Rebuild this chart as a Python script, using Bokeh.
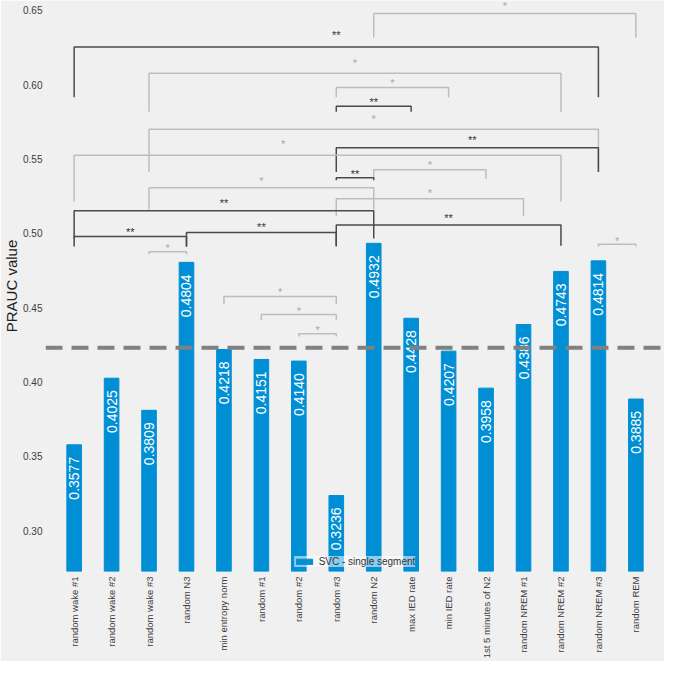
import math
from bokeh.plotting import figure
from bokeh.models import (FactorRange, Range1d, Span, FixedTicker, PrintfTickFormatter)
from bokeh.core.properties import value
from bokeh.embed import file_html
from bokeh.resources import INLINE

# ---------------- data ----------------
categories = ["random wake #1", "random wake #2", "random wake #3", "random N3",
              "min entropy norm", "random #1", "random #2", "random #3", "random N2",
              "max IED rate", "min IED rate", "1st 5 minutes of N2", "random NREM #1",
              "random NREM #2", "random NREM #3", "random REM"]
prauc = [0.3577, 0.4025, 0.3809, 0.4804, 0.4218, 0.4151, 0.4140, 0.3236, 0.4932,
         0.4428, 0.4207, 0.3958, 0.4386, 0.4743, 0.4814, 0.3885]
series_name = "SVC - single segment"
reference_level = 0.423
y_ticks = [0.30, 0.35, 0.40, 0.45, 0.50, 0.55, 0.60, 0.65]

# significance brackets: left bar, right bar, bracket height, leg bottom, label
bracket_left = [8, 0, 2, 7, 7, 2, 7, 0, 8, 7, 2, 7, 0, 7, 3, 0, 14, 2, 4, 5, 6]
bracket_right = [15, 14, 13, 10, 9, 14, 14, 13, 11, 8, 8, 12, 8, 13, 7, 3, 15, 3, 7, 7, 7]
bracket_top = [0.6478, 0.6253, 0.6076, 0.5980, 0.5853, 0.5699, 0.5575, 0.5525, 0.5427,
               0.5373, 0.5306, 0.5232, 0.5151, 0.5056, 0.5005, 0.4978, 0.4925, 0.4875,
               0.4575, 0.4453, 0.4324]
bracket_bottom = [0.6314, 0.5914, 0.5816, 0.5914, 0.5816, 0.5411, 0.5411, 0.5214, 0.5367,
                  0.5356, 0.5159, 0.5116, 0.4965, 0.4915, 0.4910, 0.4910, 0.4910, 0.4858,
                  0.4523, 0.4415, 0.4306]
bracket_label = ["*", "**", "*", "*", "**", "*", "**", "*", "*", "**", "*", "*", "**",
                 "**", "**", "**", "*", "*", "*", "*", "*"]
# label position (in bar units) where it is not centred on the bracket
label_pos_override = {6: 10.63, 7: 5.58}

# ---------------- styling ----------------
BG = "#f0f0f0"
BAR = "#008fd5"
FONT = "Liberation Sans"
DARK_LINE = "#4a4a4a"
LIGHT_LINE = "#bdbdbd"

p = figure(width=664, height=661, output_backend="svg", toolbar_location=None,
           x_range=FactorRange(factors=categories, range_padding=0.265,
                               range_padding_units="absolute"),
           y_range=Range1d(0.2725, 0.6565),
           background_fill_color=BG, border_fill_color=BG,
           min_border_left=0, min_border_right=0, min_border_top=0, min_border_bottom=0)
p.outline_line_color = None
p.grid.visible = False

p.vbar(x=categories, top=prauc, bottom=0, width=0.39, color=BAR,
       legend_label=series_name)

p.text(x=categories, y=prauc, text=[f"{v:.4f}" for v in prauc], angle=math.pi / 2,
       text_align="right", text_baseline="middle", y_offset=12,
       text_color="white", text_font=value(FONT), text_font_size="14px")

# brackets
xs, ys, cols = [], [], []
tx, ty, tt, tc = [], [], [], []
for k, (l, r, top, bot, lab) in enumerate(zip(bracket_left, bracket_right, bracket_top,
                                               bracket_bottom, bracket_label)):
    xl, xr = l + 0.5, r + 0.5
    xs.append([xl, xl, xr, xr])
    ys.append([bot, top, top, bot])
    dark = lab == "**"
    cols.append(DARK_LINE if dark else LIGHT_LINE)
    tx.append(label_pos_override.get(k, (l + r) / 2) + 0.5)
    ty.append(top + 0.18 * (top - bot))
    tt.append(lab)
    tc.append("#333333" if dark else "#a8a8a8")

p.multi_line(xs=xs, ys=ys, line_color=cols, line_width=1.5)
p.text(x=tx, y=ty, text=tt, text_color=tc, text_align="center", text_baseline="middle",
       y_offset=-3, text_font=value(FONT), text_font_size="11px")

span = Span(location=reference_level, dimension="width", line_color="#808080",
            line_width=4, line_dash="17 9")
p.add_layout(span)

# axes
p.yaxis.ticker = FixedTicker(ticks=y_ticks)
p.yaxis.formatter = PrintfTickFormatter(format="%.2f")
p.yaxis.axis_label = "PRAUC value"
p.yaxis.axis_label_text_font = FONT
p.yaxis.axis_label_text_font_size = "15px"
p.yaxis.axis_label_text_font_style = "normal"
p.yaxis.axis_label_text_color = "#222222"
p.yaxis.axis_label_standoff = 0
for ax in (p.xaxis, p.yaxis):
    ax.axis_line_color = None
    ax.major_tick_line_color = None
    ax.minor_tick_line_color = None
    ax.major_tick_in = 0
    ax.major_tick_out = 0
    ax.minor_tick_in = 0
    ax.minor_tick_out = 0
    ax.major_label_text_font = FONT
    ax.major_label_text_font_size = "10px"
    ax.major_label_text_color = "#3c3c3c"
    ax.major_label_standoff = 3
p.xaxis.major_label_orientation = math.pi / 2
p.xaxis.major_label_text_font_size = "9.5px"
p.xaxis.major_label_standoff = 5
p.xaxis.axis_label = None
p.xaxis.axis_label_standoff = 0

p.legend.location = "bottom_center"
p.legend.background_fill_color = "white"
p.legend.background_fill_alpha = 0.55
p.legend.border_line_color = None
p.legend.label_text_font = FONT
p.legend.label_text_font_size = "10px"
p.legend.label_text_color = "#333333"
p.legend.glyph_width = 20
p.legend.glyph_height = 7
p.legend.label_height = 10
p.legend.padding = 2
p.legend.margin = 4
p.legend.spacing = 0

open("out.html", "w").write(file_html(p, INLINE))
